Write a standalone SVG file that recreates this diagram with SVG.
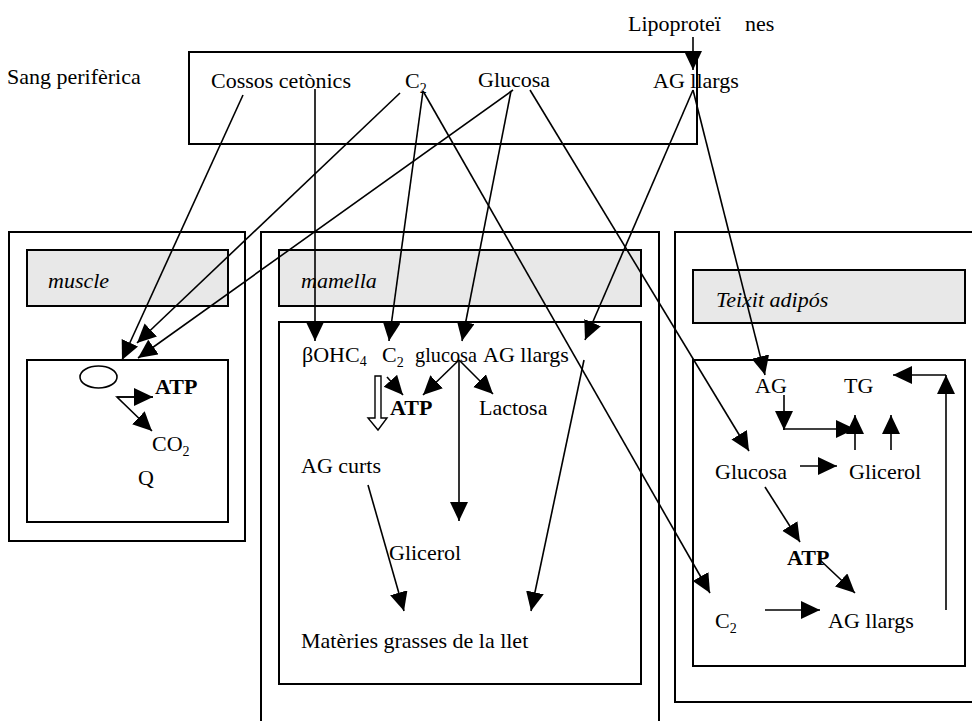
<svg xmlns="http://www.w3.org/2000/svg" width="972" height="721" viewBox="0 0 972 721">
  <style>
    text { font-family: "Liberation Serif", "Times New Roman", serif; font-size: 22px; fill: #000; }
    .it { font-style: italic; }
    .b { font-weight: bold; }
    .sub { font-size: 14px; }
    .box { fill: #fff; stroke: #000; stroke-width: 2; }
    .hdr { fill: #e8e8e8; stroke: #000; stroke-width: 2; }
    .ln { fill: none; stroke: #000; stroke-width: 1.6; }
  </style>
  <defs>
    <marker id="arr" markerUnits="userSpaceOnUse" markerWidth="20" markerHeight="20" refX="19" refY="9" orient="auto">
      <path d="M0,0 L19,9 L0,18 z" fill="#000"/>
    </marker>
  </defs>

  <rect width="972" height="721" fill="#fff"/>

  <!-- blood compartment -->
  <g id="sang">
    <text x="7" y="84">Sang perifèrica</text>
    <rect class="box" x="189" y="52" width="508" height="92"/>
    <text x="211" y="88">Cossos cetònics</text>
    <text x="405" y="88">C<tspan class="sub" dy="5">2</tspan></text>
    <text x="478" y="87">Glucosa</text>
    <text x="653" y="88">AG llargs</text>
  </g>

  <g id="lipoproteines">
    <text x="628" y="31">Lipoproteï <tspan x="745">nes</tspan></text>
  </g>

  <!-- muscle -->
  <g id="muscle">
    <rect class="box" x="9" y="232" width="236" height="309"/>
    <rect class="hdr" x="27" y="250" width="201" height="56"/>
    <text class="it" x="48" y="288">muscle</text>
    <rect class="box" x="27" y="360" width="201" height="162"/>
    <ellipse cx="98.5" cy="377" rx="18.5" ry="11" fill="#fff" stroke="#000" stroke-width="1.6"/>
    <text class="b" x="155" y="394">ATP</text>
    <text x="152" y="451">CO<tspan class="sub" dy="5">2</tspan></text>
    <text x="138" y="485">Q</text>
  </g>

  <!-- mammary gland -->
  <g id="mamella">
    <path class="box" d="M261,721 V232 H659 V721" fill="none"/>
    <rect class="hdr" x="279" y="250" width="362" height="56"/>
    <text class="it" x="301" y="288">mamella</text>
    <rect class="box" x="279" y="322" width="362" height="362"/>
    <text x="302" y="362">βOHC<tspan class="sub" dy="4">4</tspan></text>
    <text x="382" y="362">C<tspan class="sub" dy="5">2</tspan></text>
    <text x="415" y="362" textLength="62" lengthAdjust="spacingAndGlyphs">glucosa</text>
    <text x="483" y="362">AG llargs</text>
    <text class="b" x="390" y="415">ATP</text>
    <text x="479" y="415">Lactosa</text>
    <text x="301" y="473">AG curts</text>
    <text x="389" y="560">Glicerol</text>
    <text x="301" y="648">Matèries grasses de la llet</text>
    <!-- hollow arrow: C2 oxidation -->
    <path d="M375,376 H381 V418 H387 L378,430 L368,418 H375 Z" fill="#fff" stroke="#000" stroke-width="1.4"/>
  </g>

  <!-- adipose tissue -->
  <g id="adipos">
    <path class="box" d="M980,232 H675 V702 H980" fill="none"/>
    <rect class="hdr" x="693" y="270" width="272" height="53"/>
    <text class="it" x="716" y="307">Teixit adipós</text>
    <rect class="box" x="693" y="360" width="272" height="306"/>
    <text x="755" y="393">AG</text>
    <text x="844" y="393">TG</text>
    <text x="715" y="479">Glucosa</text>
    <text x="849" y="479">Glicerol</text>
    <text class="b" x="787" y="565">ATP</text>
    <text x="715" y="628">C<tspan class="sub" dy="5">2</tspan></text>
    <text x="828" y="628">AG llargs</text>
  </g>

  <!-- connectors -->
  <g id="connectors" class="ln">
    <line class="ln" x1="693" y1="37" x2="693" y2="70" marker-end="url(#arr)"/>

    <!-- to muscle -->
    <line class="ln" x1="243" y1="95" x2="122" y2="360" marker-end="url(#arr)"/>
    <line class="ln" x1="400" y1="93" x2="137" y2="343" marker-end="url(#arr)"/>
    <line class="ln" x1="513" y1="90" x2="138" y2="358" marker-end="url(#arr)"/>
    <polyline class="ln" points="153,397 117,397 152,431" marker-end="url(#arr)"/>
    <line class="ln" x1="117" y1="397" x2="153" y2="397" marker-end="url(#arr)"/>

    <!-- to mammary gland -->
    <line class="ln" x1="315" y1="89" x2="315" y2="341" marker-end="url(#arr)"/>
    <line class="ln" x1="423" y1="91" x2="389" y2="341" marker-end="url(#arr)"/>
    <line class="ln" x1="511" y1="91" x2="462" y2="341" marker-end="url(#arr)"/>
    <line class="ln" x1="693" y1="90" x2="585" y2="340" marker-end="url(#arr)"/>
    <line class="ln" x1="387" y1="377" x2="403" y2="395" marker-end="url(#arr)"/>
    <line class="ln" x1="459" y1="360" x2="423" y2="395" marker-end="url(#arr)"/>
    <line class="ln" x1="459" y1="360" x2="493" y2="394" marker-end="url(#arr)"/>
    <line class="ln" x1="459" y1="360" x2="459" y2="521" marker-end="url(#arr)"/>
    <line class="ln" x1="368" y1="485" x2="404" y2="611" marker-end="url(#arr)"/>
    <line class="ln" x1="584" y1="360" x2="531" y2="611" marker-end="url(#arr)"/>

    <!-- to adipose tissue -->
    <line class="ln" x1="693" y1="90" x2="765" y2="375" marker-end="url(#arr)"/>
    <line class="ln" x1="530" y1="90" x2="749" y2="451" marker-end="url(#arr)"/>
    <line class="ln" x1="423" y1="91" x2="710" y2="593" marker-end="url(#arr)"/>
    <line class="ln" x1="784" y1="395" x2="784" y2="430" marker-end="url(#arr)"/>
    <line class="ln" x1="783" y1="429" x2="855" y2="429" marker-end="url(#arr)"/>
    <line class="ln" x1="855" y1="450" x2="855" y2="415" marker-end="url(#arr)"/>
    <line class="ln" x1="891" y1="450" x2="891" y2="415" marker-end="url(#arr)"/>
    <line class="ln" x1="800" y1="466" x2="837" y2="466" marker-end="url(#arr)"/>
    <line class="ln" x1="765" y1="487" x2="800" y2="542" marker-end="url(#arr)"/>
    <line class="ln" x1="820" y1="560" x2="855" y2="593" marker-end="url(#arr)"/>
    <line class="ln" x1="765" y1="610" x2="820" y2="610" marker-end="url(#arr)"/>
    <line class="ln" x1="946" y1="610" x2="946" y2="375" marker-end="url(#arr)"/>
    <line class="ln" x1="946" y1="375" x2="893" y2="375" marker-end="url(#arr)"/>
  </g>
</svg>
